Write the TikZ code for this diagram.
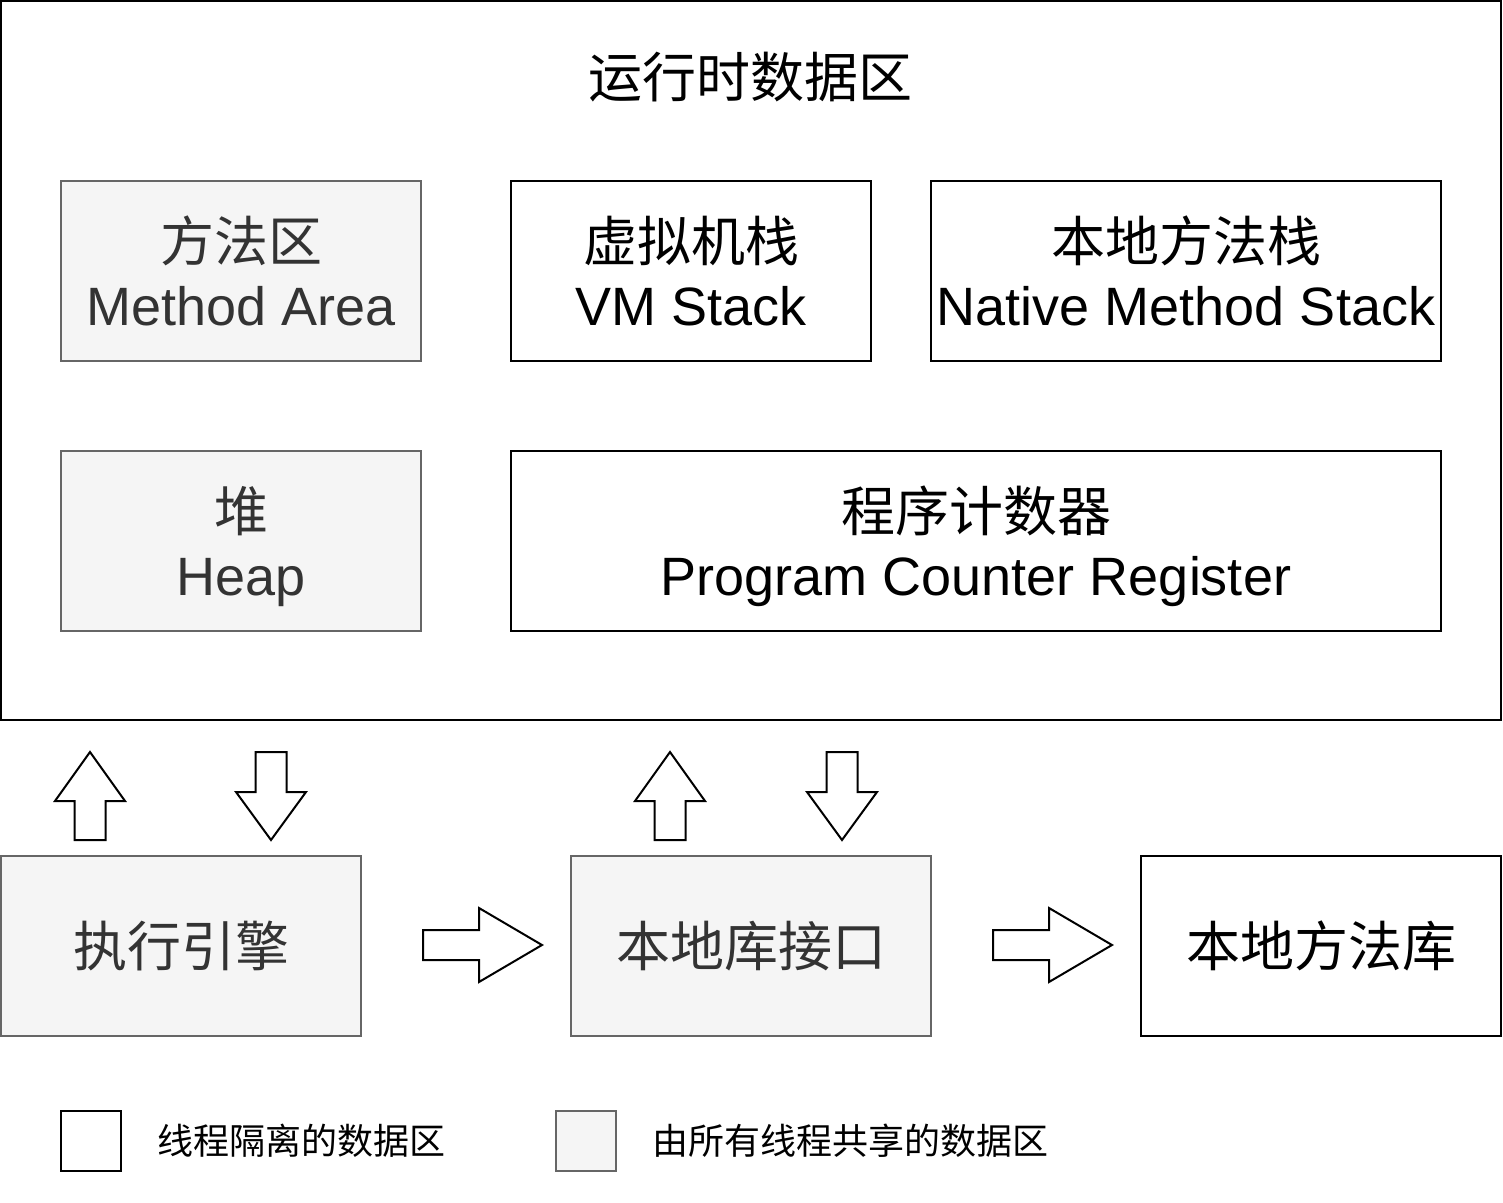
\documentclass[tikz,border=0pt]{standalone}
\usepackage{fontspec}
\setmainfont{Liberation Sans}
\newfontfamily\cjk{Noto Sans CJK SC}
\usetikzlibrary{positioning}
\definecolor{jvmgray}{HTML}{F5F5F5}
\definecolor{jvmline}{HTML}{666666}
\definecolor{jvmtext}{HTML}{333333}
\tikzset{
    area/.style={draw, line width=1pt, inner sep=0pt, outer sep=0pt, align=center,
        minimum width=180pt, minimum height=90pt, font=\fontsize{27}{32}\selectfont},
    private/.style={area, fill=white},
    shared/.style={area, fill=jvmgray, draw=jvmline, text=jvmtext},
    blockarrow/.style={draw, line width=1pt, fill=white}
}

\begin{document}
\begin{tikzpicture}[x=0.5pt, y=-0.5pt]
    \useasboundingbox (0, 0) rectangle (1503, 1203);
    % runtime data area
    \node[area, minimum width=750pt, minimum height=359.5pt] (rda) at (751, 360.5) {};
    \node[font=\fontsize{27}{32}\selectfont] (title) at (750, 77) {\cjk 运行时数据区};
    \node[shared] (method) at (241, 271) {{\cjk 方法区}\\Method Area};
    \node[private] (vmstack) at (691, 271) {{\cjk 虚拟机栈}\\VM Stack};
    \node[private, minimum width=255pt] (native) at (1186, 271) {{\cjk 本地方法栈}\\Native Method Stack};
    \node[shared, text depth=0pt] (heap) at (241, 541) {{\cjk 堆}\\Heap};
    \node[private, text depth=0pt, minimum width=465pt] (pc) at (976, 541) {{\cjk 程序计数器}\\Program Counter Register};
    % engine and native libraries
    \node[shared] (engine) at (181, 946) {\cjk 执行引擎};
    \node[shared] (jni) at (751, 946) {\cjk 本地库接口};
    \node[private] (lib) at (1321, 946) {\cjk 本地方法库};
    % block arrows
    \foreach \cx in {90, 670}
        \draw[blockarrow] (\cx, 752) -- ++(35, 49) -- ++(-19.5, 0) -- ++(0, 39)
            -- ++(-31, 0) -- ++(0, -39) -- ++(-19.5, 0) -- cycle;
    \foreach \cx in {271, 842}
        \draw[blockarrow] (\cx, 840) -- ++(35, -48) -- ++(-19.5, 0) -- ++(0, -40)
            -- ++(-31, 0) -- ++(0, 40) -- ++(-19.5, 0) -- cycle;
    \foreach \ax in {423, 993}
        \draw[blockarrow] (\ax+119, 945) -- ++(-63, -37) -- ++(0, 22) -- ++(-56, 0)
            -- ++(0, 30) -- ++(56, 0) -- ++(0, 22) -- cycle;
    % legend
    \node[private, minimum width=30pt, minimum height=30pt] (keyown) at (91, 1141) {};
    \node[anchor=west, inner sep=0pt, font=\fontsize{18}{22}\selectfont\cjk] (keyowntext) at (157, 1141) {线程隔离的数据区};
    \node[shared, minimum width=30pt, minimum height=30pt] (keyshared) at (586, 1141) {};
    \node[anchor=west, inner sep=0pt, font=\fontsize{18}{22}\selectfont\cjk] (keysharedtext) at (652, 1141) {由所有线程共享的数据区};
\end{tikzpicture}
\end{document}
